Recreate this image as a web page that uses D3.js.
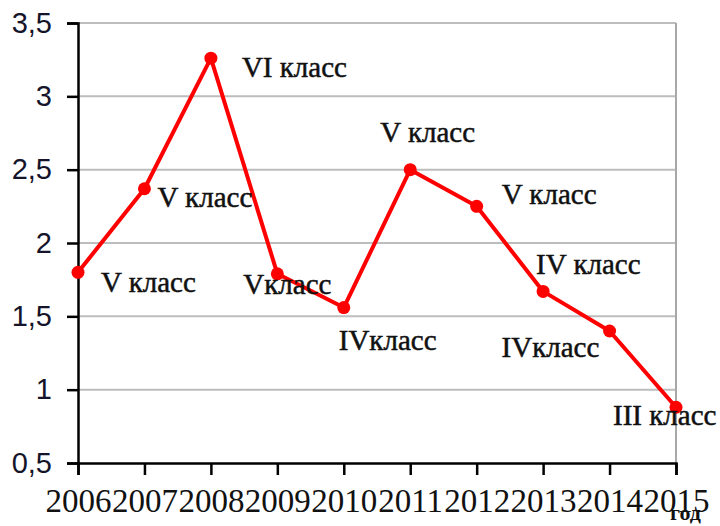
<!DOCTYPE html>
<html>
<head>
<meta charset="utf-8">
<script src="https://cdn.jsdelivr.net/npm/d3@7"></script>
<style>
  body { margin: 0; background: #fff; }
  svg { display: block; }
</style>
</head>
<body>
<div id="chart"></div>
<script>
// --- data ---
const years = ["2006", "2007", "2008", "2009", "2010", "2011", "2012", "2013", "2014", "2015"];
const values = [1.80, 2.37, 3.26, 1.79, 1.56, 2.50, 2.25, 1.67, 1.40, 0.88];
const classLabels = ["V класс", "V класс", "VI класс", "Vкласс", "IVкласс", "V класс", "V класс", "IV класс", "IVкласс", "III класс"];
const yTicks = [0.5, 1, 1.5, 2, 2.5, 3, 3.5];
// label offsets from the point (layout only)
const labelDx = [23, 13, 31, -34, -5, -30, 25, -7, -108, -63];
const labelDy = [20, 18, 19, 20, 42, -28, -2, -17, 26, 18];

const W = 720, H = 526;
const margin = { top: 23, right: 44, bottom: 63, left: 78 };
const width = W - margin.left - margin.right;
const height = H - margin.top - margin.bottom;

const svg = d3.select("#chart").append("svg")
  .attr("width", W)
  .attr("height", H);

const g = svg.append("g")
  .attr("transform", `translate(${margin.left},${margin.top})`);

const x = d3.scalePoint().domain(years).range([0, width]);
const y = d3.scaleLinear().domain([0.5, 3.5]).range([height, 0]);

// gridlines
g.selectAll("line.grid")
  .data(yTicks.slice(1))
  .enter()
  .append("line")
  .attr("class", "grid")
  .attr("x1", 0)
  .attr("x2", width)
  .attr("y1", d => y(d))
  .attr("y2", d => y(d))
  .attr("stroke", "#bdbdbd")
  .attr("stroke-width", 2);

// right border of plot area
g.append("line")
  .attr("x1", width).attr("x2", width)
  .attr("y1", 0).attr("y2", height)
  .attr("stroke", "#a8a8a8")
  .attr("stroke-width", 2);

// y axis
const yAxis = g.append("g")
  .call(d3.axisLeft(y).tickValues(yTicks).tickSize(11).tickPadding(15)
    .tickFormat(d => String(d).replace(".", ",")));
yAxis.select(".domain").attr("stroke", "#000").attr("stroke-width", 2.5);
yAxis.selectAll(".tick line").attr("stroke", "#000").attr("stroke-width", 2.5);
yAxis.selectAll("text")
  .attr("font-family", "'Liberation Sans', Arial, sans-serif")
  .attr("font-size", 29)
  .attr("fill", "#14142a");

// x axis
const xAxis = g.append("g")
  .attr("transform", `translate(0,${height})`)
  .call(d3.axisBottom(x).tickSize(12).tickPadding(14));
xAxis.select(".domain").attr("stroke", "#000").attr("stroke-width", 2.5);
xAxis.selectAll(".tick line").attr("stroke", "#000").attr("stroke-width", 2.5);
xAxis.selectAll("text")
  .attr("font-family", "'Liberation Serif', 'Times New Roman', serif")
  .attr("font-size", 33)
  .attr("fill", "#111");

// line
const line = d3.line()
  .x((d, i) => x(years[i]))
  .y(d => y(d));

g.append("path")
  .datum(values)
  .attr("d", line)
  .attr("fill", "none")
  .attr("stroke", "#ff0000")
  .attr("stroke-width", 4)
  .attr("stroke-linejoin", "round");

g.selectAll("circle.pt")
  .data(values)
  .enter()
  .append("circle")
  .attr("class", "pt")
  .attr("cx", (d, i) => x(years[i]))
  .attr("cy", d => y(d))
  .attr("r", 6.5)
  .attr("fill", "#ff0000");

// class labels
g.selectAll("text.cls")
  .data(values)
  .enter()
  .append("text")
  .attr("class", "cls")
  .attr("x", (d, i) => x(years[i]) + labelDx[i])
  .attr("y", (d, i) => y(d) + labelDy[i])
  .text((d, i) => classLabels[i])
  .attr("font-family", "'Liberation Serif', 'Times New Roman', serif")
  .attr("font-size", 29)
  .attr("fill", "#111")
  .attr("stroke", "#111")
  .attr("stroke-width", 0.5);

// axis title
svg.append("text")
  .attr("x", 670)
  .attr("y", 520)
  .text("год")
  .attr("font-family", "'Liberation Serif', 'Times New Roman', serif")
  .attr("font-weight", "bold")
  .attr("font-size", 22)
  .attr("fill", "#111");
</script>
</body>
</html>
